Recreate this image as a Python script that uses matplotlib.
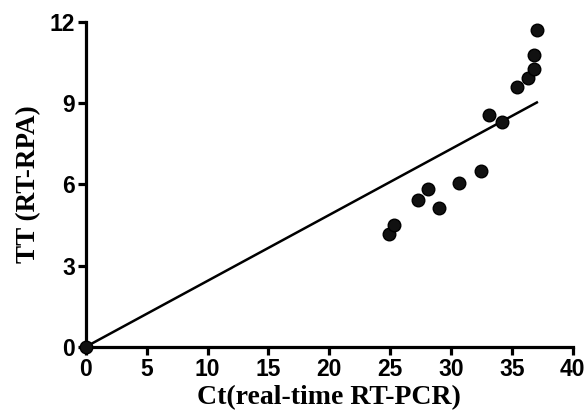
import matplotlib
matplotlib.use('Agg')
from matplotlib import pyplot as plt
import numpy as np

# values
ct = [0, 24.9, 25.3, 27.3, 28.1, 29.0, 30.7, 32.5, 33.1, 34.2, 35.4, 36.3, 36.8, 36.8, 37.1]
tt = [0, 4.16, 4.50, 5.42, 5.82, 5.11, 6.04, 6.50, 8.56, 8.32, 9.59, 9.92, 10.25, 10.80, 11.70]
fit_x = [0, 37.15]
fit_y = [0, 9.05]

fig = plt.figure(figsize=(5.87, 4.2), dpi=100)
ax = fig.add_axes([0.1465, 0.1745, 0.829, 0.773])

ax.plot(fit_x, fit_y, color='black', lw=1.8, solid_capstyle='butt')
ax.scatter(ct, tt, s=82, color='#111111', edgecolors='black', zorder=3, clip_on=False)

ax.set_xlim(0, 40)
ax.set_ylim(0, 12)
ax.set_xticks(np.arange(0, 41, 5))
ax.set_yticks([0, 3, 6, 9, 12])

for s in ['top', 'right']:
    ax.spines[s].set_visible(False)
for s in ['left', 'bottom']:
    ax.spines[s].set_linewidth(2.3)

ax.tick_params(direction='out', length=6, width=2.3, pad=2)
for lb in ax.get_xticklabels() + ax.get_yticklabels():
    lb.set_fontfamily('Liberation Sans')
    lb.set_fontweight('bold')
    lb.set_fontsize(16.5)

ax.set_xlabel('Ct(real-time RT-PCR)', family='Liberation Serif', fontweight='bold', fontsize=20, labelpad=3)
ax.set_ylabel('TT (RT-RPA)', family='Liberation Serif', fontweight='bold', fontsize=19.5, labelpad=6)

fig.savefig('out.png', dpi=100)
